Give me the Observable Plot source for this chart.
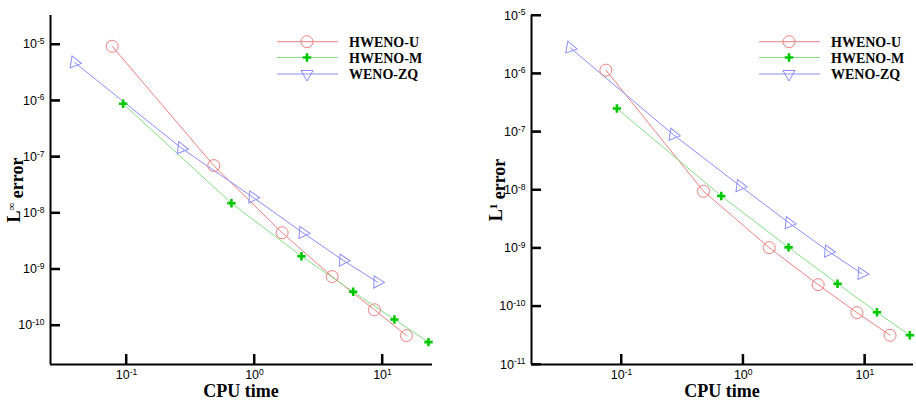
<!DOCTYPE html>
<html>
<head>
<meta charset="utf-8">
<script src="https://cdn.jsdelivr.net/npm/d3@7"></script>
<script src="https://cdn.jsdelivr.net/npm/@observablehq/plot@0.6"></script>
<style>
  html, body { margin: 0; padding: 0; background: #fff; }
  #wrap { display: flex; width: 916px; height: 401px; overflow: hidden; }
  #wrap svg { flex: 0 0 auto; }
</style>
</head>
<body>
<div id="wrap"></div>
<script>
// ---------- data ----------
const seriesNames = ["HWENO-U", "HWENO-M", "WENO-ZQ"];
const xTicks = [0.1, 1, 10];
const yTicksLinf = [1e-5, 1e-6, 1e-7, 1e-8, 1e-9, 1e-10];
const yTicksL1 = [1e-5, 1e-6, 1e-7, 1e-8, 1e-9, 1e-10, 1e-11];

// Left panel: L-infinity error vs CPU time
const linfTimeU  = [0.0773, 0.481, 1.645, 4.05, 8.66, 15.4];
const linfErrU   = [9.3e-6, 7.0e-8, 4.46e-9, 7.4e-10, 1.9e-10, 6.6e-11];
const linfTimeM  = [0.0942, 0.661, 2.33, 5.9, 12.4, 22.9];
const linfErrM   = [8.8e-7, 1.5e-8, 1.71e-9, 3.97e-10, 1.28e-10, 5.05e-11];
const linfTimeZQ = [0.0393, 0.269, 0.97, 2.39, 4.93, 9.14];
const linfErrZQ  = [4.8e-6, 1.43e-7, 1.92e-8, 4.46e-9, 1.44e-9, 5.9e-10];

// Right panel: L1 error vs CPU time
const l1TimeU  = [0.0744, 0.472, 1.636, 4.13, 8.6, 16.1];
const l1ErrU   = [1.15e-6, 9.5e-9, 1.02e-9, 2.36e-10, 7.8e-11, 3.18e-11];
const l1TimeM  = [0.0917, 0.66, 2.36, 5.96, 12.56, 23.4];
const l1ErrM   = [2.52e-7, 7.9e-9, 1.03e-9, 2.45e-10, 7.9e-11, 3.18e-11];
const l1TimeZQ = [0.0379, 0.267, 0.945, 2.39, 5.02, 9.44];
const l1ErrZQ  = [2.79e-6, 8.9e-8, 1.17e-8, 2.7e-9, 8.8e-10, 3.65e-10];

// ---------- styles ----------
const COL_U = "#ef8080";
const COL_M_LINE = "#85e085";
const COL_M_MARK = "#00c800";
const COL_ZQ = "#8c8cff";
const SERIF = "'Liberation Serif', 'Times New Roman', serif";
const SANS = "'Liberation Sans', Arial, sans-serif";

// custom symbols
const plusSymbol = {
  draw(ctx, size) {
    const h = Math.sqrt(size / Math.PI);
    ctx.moveTo(-h, 0); ctx.lineTo(h, 0);
    ctx.moveTo(0, -h); ctx.lineTo(0, h);
  }
};
const triDownSymbol = {
  draw(ctx, size) {
    const r = Math.sqrt(size / Math.PI);
    const c = Math.cos(Math.PI / 6) * r;
    ctx.moveTo(0, r);
    ctx.lineTo(-c, -r / 2);
    ctx.lineTo(c, -r / 2);
    ctx.closePath();
  }
};
const TICK = 10; // inward tick length in px
const R_CIRCLE = 6, R_PLUS = 4.2, R_TRI = 7;

function rows(times, errs) {
  return times.map((t, i) => ({time: t, err: errs[i]}));
}

function panel(cfg) {
  const {width, marginLeft, marginRight, xDomain, yDomain, yTicks, U, M, ZQ, sup, legendX} = cfg;
  const height = 401, marginTop = 15, marginBottom = 37;
  const xs = d3.scaleLog(xDomain, [marginLeft, width - marginRight]);
  const ys = d3.scaleLog(yDomain, [height - marginBottom, marginTop]);
  // orientation of triangle symbols along the line
  ZQ.forEach((d, i) => {
    const a = ZQ[Math.max(0, i - 1)], b = ZQ[Math.min(ZQ.length - 1, i + 1)];
    d.rot = Math.atan2(ys(b.err) - ys(a.err), xs(b.time) - xs(a.time)) * 180 / Math.PI;
  });
  const xTickEnd = xs.invert(marginLeft + TICK);
  const yTickEnd = ys.invert(height - marginBottom - TICK);
  const fmt = d => "10^" + Math.round(Math.log10(d));
  const svg = Plot.plot({
    width, height, marginLeft, marginRight, marginTop, marginBottom,
    style: {fontFamily: SANS, fontSize: "12px", color: "black", background: "white", overflow: "visible"},
    x: {type: "log", domain: xDomain},
    y: {type: "log", domain: yDomain},
    marks: [
      Plot.axisX(xTicks, {tickSize: 0, tickPadding: 6, tickFormat: fmt, label: null, fontSize: 12.5}),
      Plot.axisY(yTicks, {tickSize: 0, tickPadding: 6, tickFormat: fmt, label: null, fontSize: 12.5}),
      Plot.line(U, {x: "time", y: "err", stroke: COL_U, strokeWidth: 1}),
      Plot.line(M, {x: "time", y: "err", stroke: COL_M_LINE, strokeWidth: 1}),
      Plot.line(ZQ, {x: "time", y: "err", stroke: COL_ZQ, strokeWidth: 1}),
      Plot.dot(U, {x: "time", y: "err", r: R_CIRCLE, stroke: COL_U, fill: "none", strokeWidth: 1}),
      Plot.dot(M, {x: "time", y: "err", r: R_PLUS, symbol: plusSymbol, stroke: COL_M_MARK, fill: "none", strokeWidth: 2.6}),
      Plot.dot(ZQ, {x: "time", y: "err", r: R_TRI, symbol: triDownSymbol, rotate: "rot", stroke: COL_ZQ, fill: "none", strokeWidth: 1}),
      // axis lines and inward ticks drawn last, on top
      Plot.ruleX(xTicks, {x: d => d, y1: yDomain[0], y2: yTickEnd, stroke: "#000000", strokeWidth: 2}),
      Plot.ruleY(yTicks, {y: d => d, x1: xDomain[0], x2: xTickEnd, stroke: "#000000", strokeWidth: 2}),
      Plot.ruleX([xDomain[0]], {stroke: "#000000", strokeWidth: 2}),
      Plot.ruleY([yDomain[0]], {stroke: "#000000", strokeWidth: 2})
    ]
  });

  const s = d3.select(svg);

  // superscript exponents on tick labels
  s.selectAll("text").each(function() {
    const t = this.textContent;
    if (t.includes("^")) {
      const [base, exp] = t.split("^");
      this.textContent = "";
      d3.select(this).append("tspan").text(base);
      d3.select(this).append("tspan").attr("dy", "-0.5em").attr("font-size", "8.5px").text(exp);
    }
  });

  // extra inward ticks drawn directly (same positions as the rules above)
  const x0 = xs(xDomain[0]), y0 = ys(yDomain[0]);
  xTicks.forEach(v => {
    const x = xs(v);
    s.append("line").attr("x1", x).attr("x2", x).attr("y1", y0).attr("y2", y0 - TICK)
      .attr("stroke", "#000000").attr("stroke-width", 2);
  });
  yTicks.forEach(v => {
    const y = ys(v);
    s.append("line").attr("x1", x0).attr("x2", x0 + TICK).attr("y1", y).attr("y2", y)
      .attr("stroke", "#000000").attr("stroke-width", 2);
  });

  const cx = (marginLeft + width - marginRight) / 2;
  // x label
  s.append("text").attr("x", cx).attr("y", 397).attr("text-anchor", "middle")
    .attr("font-family", SERIF).attr("font-weight", "bold").attr("font-size", 18).attr("fill", "black")
    .text("CPU time");
  // y label
  const yl = s.append("text").attr("transform", `translate(${cfg.yLabelX},190) rotate(-90)`)
    .attr("text-anchor", "middle").attr("font-family", SERIF).attr("font-weight", "bold")
    .attr("font-size", 18).attr("fill", "black");
  yl.append("tspan").text("L");
  yl.append("tspan").attr("dy", "-0.45em").attr("font-size", 11).text(sup);
  yl.append("tspan").attr("dy", "0.45em").text(" error");

  // legend
  const leg = s.append("g").attr("class", "legend");
  const rowsY = [41.7, 57.5, 74];
  const lineX1 = legendX, lineX2 = legendX + 61, mx = legendX + 30, tx = legendX + 72;
  const styles = [
    {name: seriesNames[0], line: COL_U, sym: d3.symbol(d3.symbolCircle, Math.PI * R_CIRCLE * R_CIRCLE)(), stroke: COL_U, sw: 1},
    {name: seriesNames[1], line: COL_M_LINE, sym: d3.symbol(plusSymbol, Math.PI * R_PLUS * R_PLUS)(), stroke: COL_M_MARK, sw: 2.6},
    {name: seriesNames[2], line: COL_ZQ, sym: d3.symbol(triDownSymbol, Math.PI * R_TRI * R_TRI)(), stroke: COL_ZQ, sw: 1}
  ];
  styles.forEach((st, i) => {
    const y = rowsY[i];
    leg.append("line").attr("x1", lineX1).attr("x2", lineX2).attr("y1", y).attr("y2", y)
      .attr("stroke", st.line).attr("stroke-width", 1);
    leg.append("path").attr("d", st.sym).attr("transform", `translate(${mx},${y})`)
      .attr("fill", "none").attr("stroke", st.stroke).attr("stroke-width", st.sw);
    leg.append("text").attr("x", tx).attr("y", y).attr("dy", "0.36em").attr("text-anchor", "start")
      .attr("font-family", SERIF).attr("font-weight", "bold").attr("font-size", 14).attr("fill", "black")
      .text(st.name);
  });
  return svg;
}

const wrap = document.getElementById("wrap");
wrap.append(panel({
  width: 458, marginLeft: 50, marginRight: 26,
  xDomain: [0.0255, 24.6], yDomain: [2.02e-11, 3.28e-5], yTicks: yTicksLinf,
  U: rows(linfTimeU, linfErrU), M: rows(linfTimeM, linfErrM), ZQ: rows(linfTimeZQ, linfErrZQ),
  sup: "\u221E", yLabelX: 20, legendX: 277
}));
wrap.append(panel({
  width: 458, marginLeft: 73, marginRight: 3,
  xDomain: [0.01822, 25.08], yDomain: [1e-11, 1e-5], yTicks: yTicksL1,
  U: rows(l1TimeU, l1ErrU), M: rows(l1TimeM, l1ErrM), ZQ: rows(l1TimeZQ, l1ErrZQ),
  sup: "1", yLabelX: 44, legendX: 301
}));
</script>
</body>
</html>
